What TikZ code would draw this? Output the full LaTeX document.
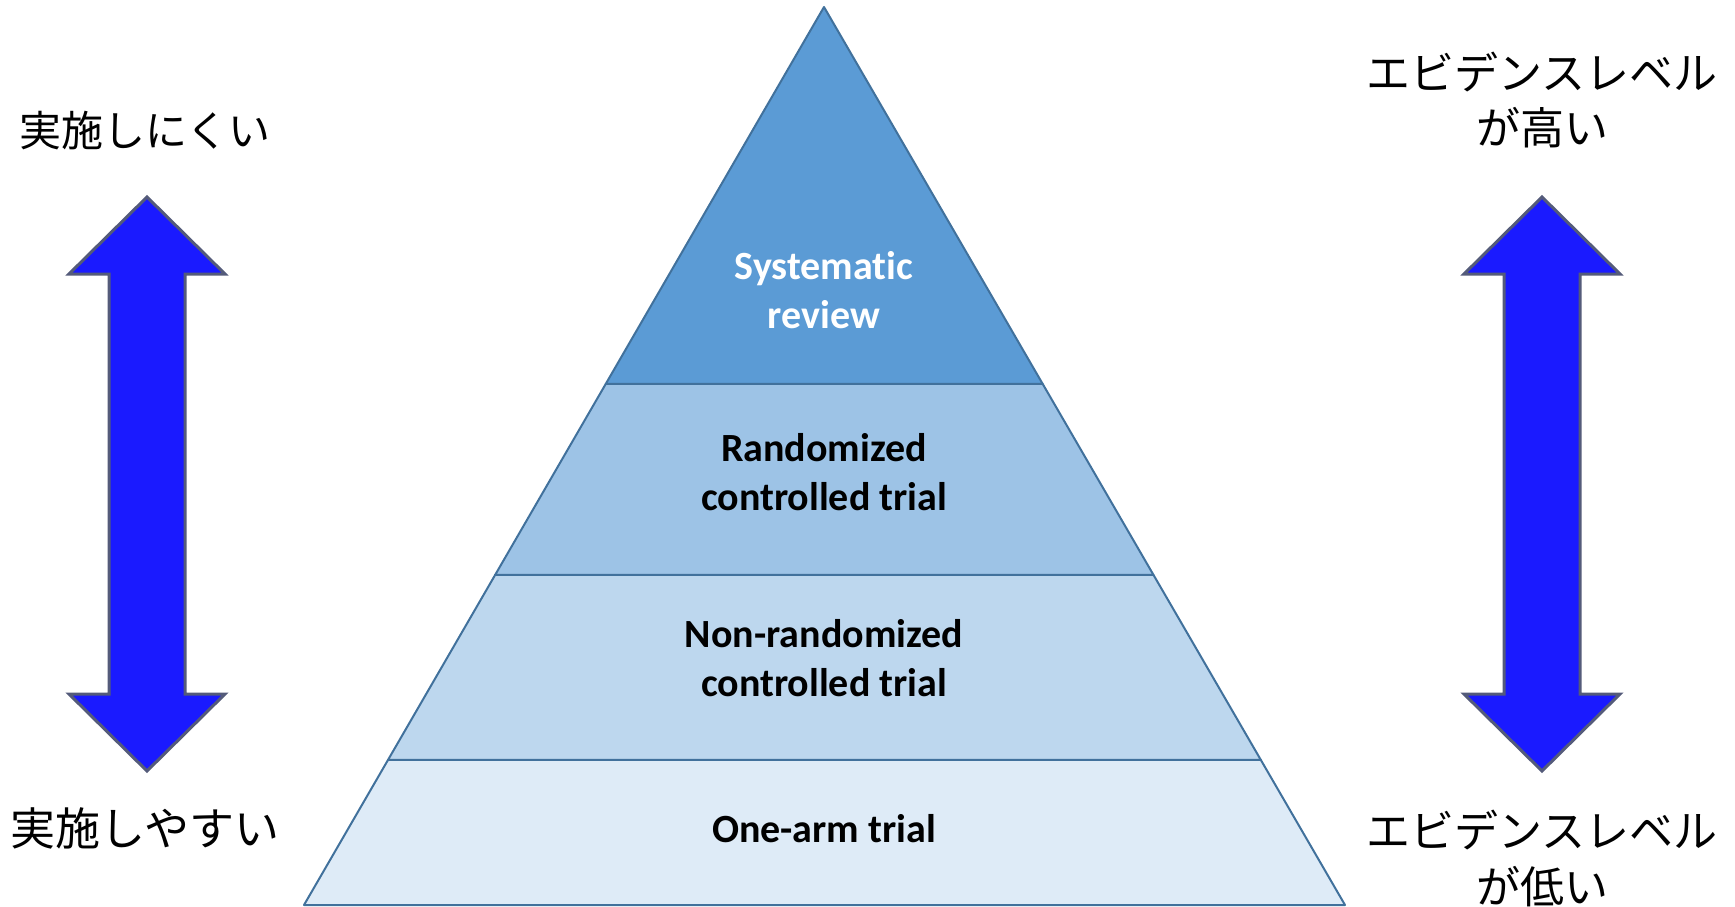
\documentclass[tikz,border=0pt]{standalone}
\usepackage{fontspec}
\setmainfont{Carlito}[Ligatures=NoCommon]
\newfontfamily\jpfont{Noto Sans CJK JP}
\usetikzlibrary{calc}

\definecolor{tierA}{HTML}{5B9BD5}
\definecolor{tierB}{HTML}{9DC3E6}
\definecolor{tierC}{HTML}{BDD7EE}
\definecolor{tierD}{HTML}{DEEBF7}
\definecolor{tierline}{HTML}{41719C}
\definecolor{arrowfill}{HTML}{1A1AFF}
\definecolor{arrowline}{HTML}{545B7A}

\tikzset{
  tier/.style={draw=tierline, line width=2pt, line join=round},
  % base anchor sits on the last line of each label
  tiertext/.style={font=\fontsize{40}{49}\selectfont\bfseries, align=center, anchor=base, inner sep=0pt},
  jplabel/.style={font=\jpfont\fontsize{#1}{#1}\selectfont, anchor=base, inner sep=0pt},
  jplabel/.default=42,
  bigarrow/.style={fill=arrowfill, draw=arrowline, line width=3pt, line join=miter},
}

\begin{document}
\begin{tikzpicture}[x=1pt,y=-1pt]
\useasboundingbox (0,0) rectangle (1735,907);

% pyramid corners
\coordinate (apex) at (824,7);
\coordinate (bl) at (304,905);
\coordinate (br) at (1345,905);
% tier boundaries along the two sides
\coordinate (l1) at ($(apex)!0.4198!(bl)$);
\coordinate (r1) at ($(apex)!0.4198!(br)$);
\coordinate (l2) at ($(apex)!0.6325!(bl)$);
\coordinate (r2) at ($(apex)!0.6325!(br)$);
\coordinate (l3) at ($(apex)!0.8385!(bl)$);
\coordinate (r3) at ($(apex)!0.8385!(br)$);

\path[tier, fill=tierD] (l3) -- (r3) -- (br) -- (bl) -- cycle;
\path[tier, fill=tierC] (l2) -- (r2) -- (r3) -- (l3) -- cycle;
\path[tier, fill=tierB] (l1) -- (r1) -- (r2) -- (l2) -- cycle;
\path[tier, fill=tierA] (apex) -- (r1) -- (l1) -- cycle;

% tier labels
\node[tiertext, text=white] (sr) at (824,328) {Systematic\\review};
\node[tiertext] (rct) at (824,510) {Randomized\\controlled trial};
\node[tiertext] (nrct) at (824,696) {Non-randomized\\controlled trial};
\node[tiertext] (onearm) at (824,842) {One-arm trial};

% double arrows
\path[bigarrow] (147,197) -- (225,274) -- (185,274) -- (185,694) -- (225,694)
  -- (147,771) -- (69,694) -- (109,694) -- (109,274) -- (69,274) -- cycle;
\path[bigarrow] (1542,197) -- (1620,274) -- (1580,274) -- (1580,694) -- (1620,694)
  -- (1542,771) -- (1464,694) -- (1504,694) -- (1504,274) -- (1464,274) -- cycle;

% side labels
\node[jplabel] (hard) at (145,146) {実施しにくい};
\node[jplabel=45] (easy) at (145,845) {実施しやすい};
\node[jplabel=44] (hi1) at (1542,89) {エビデンスレベル};
\node[jplabel=44] (hi2) at (1542,144) {が高い};
\node[jplabel=44] (lo1) at (1542,847) {エビデンスレベル};
\node[jplabel=44] (lo2) at (1542,903) {が低い};
\end{tikzpicture}
\end{document}
